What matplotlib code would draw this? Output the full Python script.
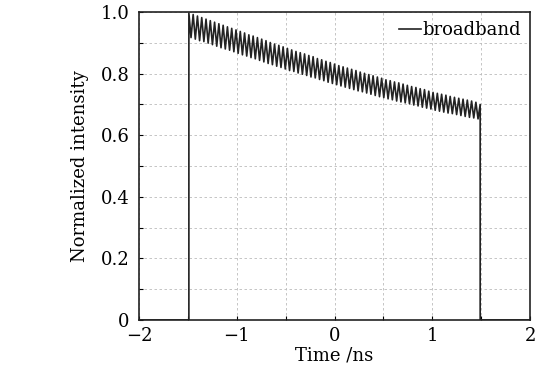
import numpy as np
import matplotlib
matplotlib.use("Agg")
from matplotlib import pyplot as plt
from matplotlib.ticker import MultipleLocator

# pulse edges (ns)
t_start = -1.49
t_end = 1.49

# oscillation maxima / minima, in order along the pulse
peaks = [0.997, 0.992, 0.987, 0.982, 0.977, 0.972, 0.967, 0.962, 0.957, 0.952,
         0.947, 0.942, 0.937, 0.932, 0.926, 0.922, 0.917, 0.912, 0.907, 0.901,
         0.896, 0.892, 0.887, 0.882, 0.877, 0.872, 0.868, 0.864, 0.859, 0.855,
         0.849, 0.845, 0.840, 0.836, 0.831, 0.826, 0.822, 0.818, 0.814, 0.810,
         0.805, 0.801, 0.797, 0.793, 0.789, 0.785, 0.780, 0.777, 0.773, 0.770,
         0.766, 0.762, 0.758, 0.755, 0.751, 0.748, 0.743, 0.739, 0.736, 0.733,
         0.730, 0.726, 0.723, 0.720, 0.717, 0.714, 0.711, 0.707]
troughs = [0.917, 0.912, 0.907, 0.904, 0.899, 0.894, 0.889, 0.884, 0.880, 0.876,
           0.871, 0.866, 0.861, 0.857, 0.852, 0.848, 0.843, 0.838, 0.833, 0.829,
           0.824, 0.820, 0.815, 0.810, 0.807, 0.802, 0.798, 0.794, 0.789, 0.786,
           0.781, 0.777, 0.772, 0.768, 0.764, 0.760, 0.756, 0.752, 0.748, 0.744,
           0.741, 0.737, 0.733, 0.729, 0.725, 0.722, 0.718, 0.715, 0.711, 0.708,
           0.705, 0.702, 0.698, 0.695, 0.691, 0.688, 0.685, 0.681, 0.678, 0.675,
           0.672, 0.670, 0.667, 0.664, 0.661, 0.658, 0.656, 0.653]
last_value = 0.700

x_ticks = [-2, -1, 0, 1, 2]
x_labels = ["\u22122", "\u22121", "0", "1", "2"]
y_ticks = [0, 0.2, 0.4, 0.6, 0.8, 1.0]
y_labels = ["0", "0.2", "0.4", "0.6", "0.8", "1.0"]

osc = []
for p, q in zip(peaks, troughs):
    osc += [p, q]
osc.append(last_value)
t_osc = np.linspace(t_start, t_end, len(osc))

t = np.concatenate([[-2, t_start], t_osc, [t_end, 2]])
y = np.concatenate([[0, 0], osc, [0, 0]])

plt.rcParams["font.family"] = "DejaVu Serif"

fig = plt.figure(figsize=(5.55, 3.76), dpi=100)
ax = fig.add_axes([0.2505, 0.149, 0.7045, 0.819])

ax.plot(t, y, color="#222222", lw=1.2, label="broadband")

ax.set_xlim(-2, 2)
ax.set_ylim(0, 1.0)
ax.set_xticks(x_ticks)
ax.set_xticklabels(x_labels, fontsize=13)
ax.set_yticks(y_ticks)
ax.set_yticklabels(y_labels, fontsize=13)
ax.xaxis.set_minor_locator(MultipleLocator(0.5))
ax.yaxis.set_minor_locator(MultipleLocator(0.1))
ax.tick_params(which="both", direction="in", length=3, width=0.8)
ax.tick_params(axis="x", pad=5)
ax.tick_params(axis="y", pad=7)
ax.grid(which="both", color="#bbbbbb", linestyle=(0, (3, 3)), linewidth=0.6)
for s in ax.spines.values():
    s.set_linewidth(1.2)
    s.set_color("#222222")

ax.set_xlabel("Time /ns", fontsize=13, labelpad=1)
ax.set_ylabel("Normalized intensity", fontsize=13, labelpad=8)

leg = ax.legend(loc="upper right", frameon=False, fontsize=13, handlelength=1.2,
                handletextpad=0.1, borderaxespad=0.1)

fig.savefig("out.png", dpi=100)
